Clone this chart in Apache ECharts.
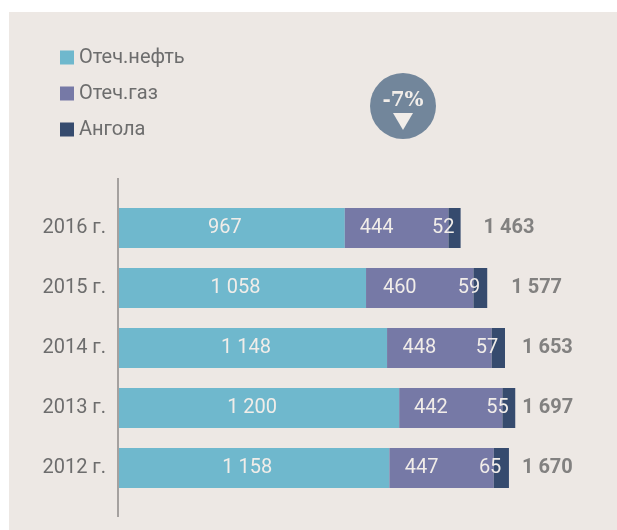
<!DOCTYPE html>
<html>
<head>
    <meta charset="utf-8">
    <title>Добыча по годам</title>
    <script src="https://cdn.jsdelivr.net/npm/echarts@6/dist/echarts.min.js"></script>
    <style>
        html, body { margin: 0; padding: 0; background: #ffffff; }
        #main { width: 617px; height: 530px; }
    </style>
</head>
<body>
    <div id="main"></div>
    <script type="text/javascript">
        // data
        var years = ['2016 г.', '2015 г.', '2014 г.', '2013 г.', '2012 г.'];
        var oil = [967, 1058, 1148, 1200, 1158];
        var gas = [444, 460, 448, 442, 447];
        var angola = [52, 59, 57, 55, 65];
        var totals = [1463, 1577, 1653, 1697, 1670];
        var change = '-7%';

        // gap between bar end and the total label, per row
        var totalGap = [23, 24, 17, 7, 13];

        function fmt(v) {
            return String(v).replace(/\B(?=(\d{3})+(?!\d))/g, ' ');
        }

        var chartDom = document.getElementById('main');
        var myChart = echarts.init(chartDom, null, {renderer: 'canvas'});

        var valLabel = {
            show: true,
            color: '#f1ede9',
            fontFamily: 'Roboto',
            fontSize: 20,
            formatter: function (p) { return fmt(p.value); }
        };

        var option = {
            animation: false,
            textStyle: {fontFamily: 'Roboto'},
            graphic: [
                {type: 'rect', z: -10, shape: {x: 9, y: 12, width: 608, height: 518}, style: {fill: '#ede8e4'}},
                {type: 'line', shape: {x1: 118, y1: 178, x2: 118, y2: 517}, style: {stroke: '#8c8a88', lineWidth: 1.5}},
                {type: 'circle', shape: {cx: 403, cy: 106, r: 33}, style: {fill: '#72869b'}},
                {type: 'text', x: 403, y: 101, style: {text: change, fill: '#f1ede9', fontFamily: 'DejaVu Serif', fontSize: 20, fontWeight: 'bold', align: 'center', verticalAlign: 'middle'}},
                {type: 'polygon', shape: {points: [[393, 113], [413, 113], [403, 130]]}, style: {fill: '#f1ede9'}}
            ],
            legend: {
                left: 55,
                top: 42,
                orient: 'vertical',
                icon: 'rect',
                itemWidth: 14,
                itemHeight: 14,
                itemGap: 15,
                data: ['Отеч.нефть', 'Отеч.газ', 'Ангола'],
                textStyle: {color: '#6d6d6d', fontSize: 20, lineHeight: 21, fontFamily: 'Roboto'}
            },
            grid: {left: 119, top: 198, height: 300, right: 31, containLabel: false},
            xAxis: {
                type: 'value',
                min: 0,
                max: 2000,
                show: false
            },
            yAxis: {
                type: 'category',
                data: years,
                inverse: true,
                axisLine: {show: false},
                axisTick: {show: false},
                axisLabel: {color: '#6d6d6d', fontSize: 20, margin: 13, fontFamily: 'Roboto'}
            },
            series: [
                {
                    name: 'Отеч.нефть', type: 'bar', stack: 'a', barWidth: 40,
                    itemStyle: {color: '#6fb8cd'},
                    label: Object.assign({}, valLabel, {position: 'inside', offset: [-7, 0]}),
                    data: oil
                },
                {
                    name: 'Отеч.газ', type: 'bar', stack: 'a', barWidth: 40,
                    itemStyle: {color: '#7679a6'},
                    label: Object.assign({}, valLabel, {position: 'inside', offset: [-20, 0]}),
                    data: gas
                },
                {
                    name: 'Ангола', type: 'bar', stack: 'a', barWidth: 40,
                    itemStyle: {color: '#364b6e'},
                    label: Object.assign({}, valLabel, {position: 'inside', align: 'right'}),
                    data: angola
                },
                {
                    name: 'Итого', type: 'scatter', symbolSize: 0,
                    label: {
                        show: true, position: 'right',
                        color: '#666666', fontSize: 20, fontWeight: 'bold', fontFamily: 'Roboto',
                        formatter: function (p) { return fmt(p.value[0]); }
                    },
                    data: totals.map(function (t, i) {
                        return {value: [t, years[i]], label: {distance: totalGap[i]}};
                    })
                }
            ]
        };
        myChart.setOption(option);
    </script>
</body>
</html>
